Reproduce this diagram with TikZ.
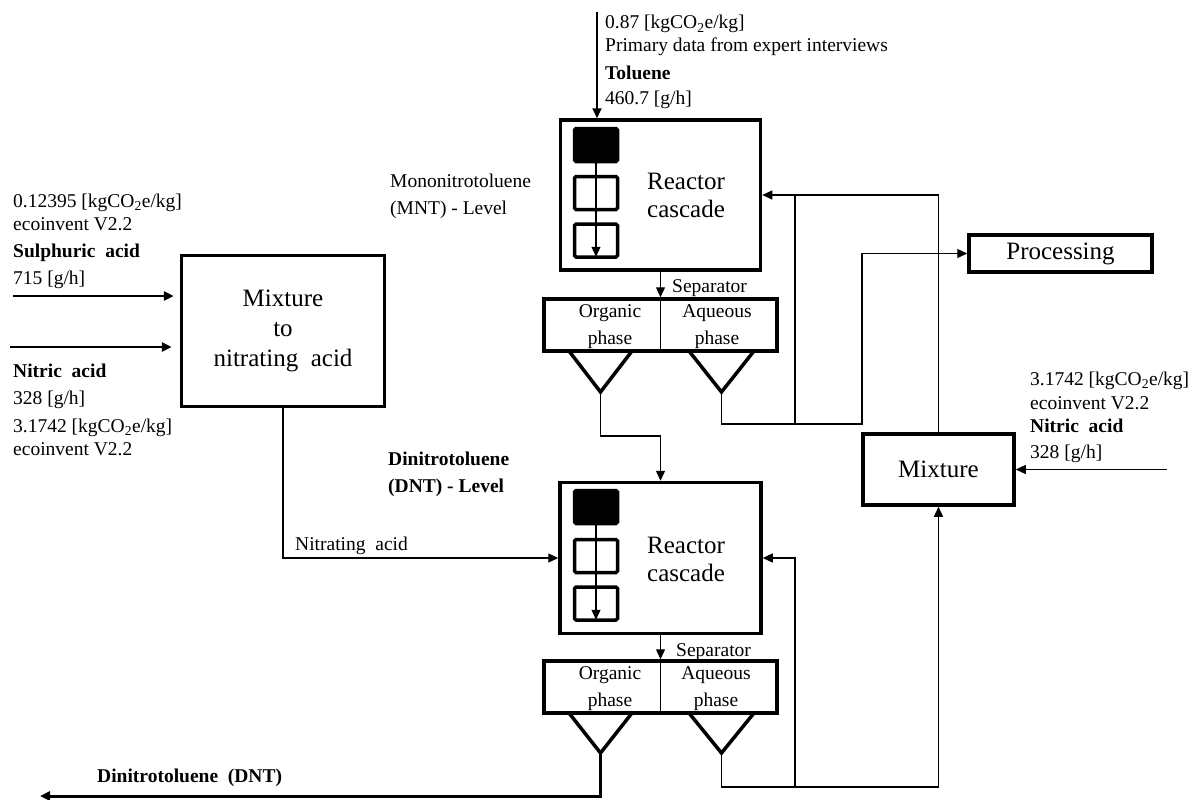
\documentclass[tikz,border=0pt]{standalone}
\usepackage{fontspec}
\setmainfont{Liberation Serif}
\usetikzlibrary{arrows.meta}
\begin{document}
\begin{tikzpicture}[x=1pt,y=-1pt,
  box/.style={draw,line width=3.5pt,inner sep=0pt},
  conn/.style={line width=1.3pt},
  tip/.style={-{Triangle[length=10pt,width=9pt]}},
  sm/.style={font=\fontsize{19.5}{23}\selectfont},
  lbl/.style={sm,inner sep=0pt,anchor=base west},
  bigf/.style={font=\fontsize{25}{28}\selectfont,align=center,inner sep=0pt},
  ph/.style={font=\fontsize{19.5}{27}\selectfont,align=center,inner sep=0pt},
  kbox/.style={draw,line width=3.5pt,rounded corners=1.5pt,minimum width=43pt,minimum height=33pt,inner sep=0pt},
  vee/.style={line width=3.5pt}
]
\useasboundingbox (0,0) rectangle (1199,800);

% ---------- reactors ----------
\node[box,minimum width=200pt,minimum height=150pt] (r1) at (660.5,195) {};
\node[box,minimum width=201pt,minimum height=151pt] (r2) at (660.5,558) {};
\node[bigf] (r1t) at (686,195) {Reactor\\cascade};
\node[bigf] (r2t) at (686,559) {Reactor\\cascade};

\node[kbox,fill=black] (k11) at (596,145) {};
\node[kbox] (k12) at (596,193) {};
\node[kbox] (k13) at (596,240.5) {};
\draw[conn,tip,shorten >=2pt] (k11.south) -- (k13.south);

\node[kbox,fill=black] (k21) at (596,507) {};
\node[kbox] (k22) at (596,556) {};
\node[kbox] (k23) at (596,603.5) {};
\draw[conn,tip,shorten >=2pt] (k21.south) -- (k23.south);

% ---------- separators ----------
\node[box,minimum width=233pt,minimum height=52pt] (s1) at (660.5,325) {};
\draw[conn] (s1.north) -- (s1.south);
\node[ph] (s1o) at (610,327) {Organic\\phase};
\node[ph] (s1a) at (717,327) {Aqueous\\phase};

\node[box,minimum width=233pt,minimum height=52pt] (s2) at (660.5,687) {};
\draw[conn] (s2.north) -- (s2.south);
\node[ph] (s2o) at (610,689) {Organic\\phase};
\node[ph] (s2a) at (716,689) {Aqueous\\phase};

\coordinate (o1) at (600.5,392);
\coordinate (a1) at (721.5,392);
\coordinate (o2) at (600.5,753);
\coordinate (a2) at (721.5,753);
\draw[vee] (569,351) -- (o1) -- (632,351);
\draw[vee] (689,351) -- (a1) -- (754,351);
\draw[vee] (569,713) -- (o2) -- (632,713);
\draw[vee] (689,713) -- (a2) -- (754,713);

\draw[conn,tip] (r1.south) -- (s1.north);
\node[lbl] at (672,292) {Separator};
\draw[conn,tip] (r2.south) -- (s2.north);
\node[lbl] at (676,656) {Separator};

% ---------- other boxes ----------
\node[box,minimum width=203pt,minimum height=151pt,font=\fontsize{25}{30}\selectfont,align=center] (mixL) at (283,331) {Mixture\\to\\nitrating\ \ acid};
\node[box,minimum width=183pt,minimum height=37pt,font=\fontsize{25}{28}\selectfont] (proc) at (1060.5,253.5) {Processing};
\node[box,minimum width=151pt,minimum height=71pt,font=\fontsize{25}{28}\selectfont] (mixR) at (938.5,469.5) {Mixture};

% ---------- connectors ----------
\coordinate (tol) at (597,12);
\draw[line width=2pt,tip] (tol) -- (tol |- r1.north);

\draw[conn,tip] (o1) -- ++(0,44) -| (r2.north);

\coordinate (j1) at (795,424);
\coordinate (j2) at (862,424);
\draw[conn,tip] (a1) |- (j2) |- (proc.west);
\draw[conn,tip] (j1) |- (r1.east);
\draw[conn] (mixR.north) |- (j1 |- r1.east);

\coordinate (j3) at (795,787);
\draw[conn,tip] (a2) |- (j3) -| (mixR.south);
\draw[conn,tip] (j3) |- (r2.east);

\coordinate (dnt) at (40,796);
\draw[line width=3pt,tip] (o2) |- (dnt);

\draw[conn,tip] (mixL.south) |- (r2.west);
\node[lbl] at (295,550) {Nitrating\ \ acid};

\coordinate (sa) at (13,296);
\coordinate (na) at (10,347);
\draw[line width=2.5pt,tip,shorten >=6pt] (sa) -- (sa -| mixL.west);
\draw[line width=2.5pt,tip,shorten >=8pt] (na) -- (na -| mixL.west);

\coordinate (nr) at (1167,469.5);
\draw[conn,tip] (nr) -- (mixR.east);

% ---------- labels ----------
\node[lbl] at (605,29) {0.87 [kgCO\textsubscript{2}e/kg]};
\node[lbl] at (605,52) {Primary data from expert interviews};
\node[lbl] at (605,79) {\bfseries Toluene};
\node[lbl] at (605,104) {460.7 [g/h]};

\node[lbl] at (390,187) {Mononitrotoluene};
\node[lbl] at (390,214) {(MNT) - Level};

\node[lbl] at (388,465) {\bfseries Dinitrotoluene};
\node[lbl] at (388,492) {\bfseries (DNT) - Level};

\node[lbl] at (13,207) {0.12395 [kgCO\textsubscript{2}e/kg]};
\node[lbl] at (13,230) {ecoinvent V2.2};
\node[lbl] at (13,257) {\bfseries Sulphuric\ \ acid};
\node[lbl] at (13,284) {715 [g/h]};

\node[lbl] at (13,377) {\bfseries Nitric\ \ acid};
\node[lbl] at (13,404) {328 [g/h]};
\node[lbl] at (13,432) {3.1742 [kgCO\textsubscript{2}e/kg]};
\node[lbl] at (13,455) {ecoinvent V2.2};

\node[lbl] at (1030,385) {3.1742 [kgCO\textsubscript{2}e/kg]};
\node[lbl] at (1030,409) {ecoinvent V2.2};
\node[lbl] at (1030,432) {\bfseries Nitric\ \ acid};
\node[lbl] at (1030,458) {328 [g/h]};

\node[lbl] at (97,782) {\bfseries Dinitrotoluene\ \ (DNT)};
\end{tikzpicture}
\end{document}
